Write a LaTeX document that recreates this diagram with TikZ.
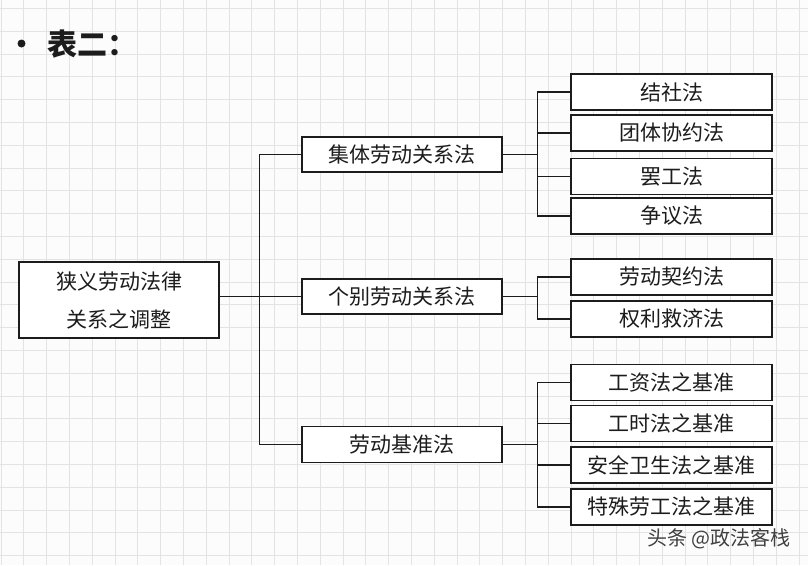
\documentclass[tikz,border=0pt]{standalone}
\usepackage{fontspec}
\newfontfamily\cjk{Noto Sans CJK SC}
\definecolor{gridc}{RGB}{226,228,226}
\definecolor{inkc}{RGB}{28,28,28}
\begin{document}
\begin{tikzpicture}[x=1pt,y=-1pt,
  gridline/.style={draw=gridc,line width=0.9pt},
  box/.style={draw=inkc,line width=1.4pt,fill=white,inner sep=0pt,
    minimum width=200pt,minimum height=36pt,
    font=\cjk\fontsize{21}{21}\selectfont,text=inkc},
  conn/.style={draw=inkc,line width=1.4pt}]
\useasboundingbox (0,0) rectangle (808,565);
\fill[white!98!gray] (0,0) rectangle (808,565);
\foreach \i in {0,...,35} \draw[gridline] ({1+\i*22.8},0) -- ({1+\i*22.8},565);
\foreach \j in {0,...,24} \draw[gridline] (0,{8.5+\j*22.8}) -- (808,{8.5+\j*22.8});
% title
\node[circle,fill=inkc,inner sep=0pt,minimum size=8pt] (bul) at (21.5,43.5) {};
\node[anchor=west,font=\cjk\bfseries\fontsize{30}{30}\selectfont,text=inkc,inner sep=0pt] (title) at (47,44) {表二：};
% root
\node[box,minimum height=76pt,align=center,font=\cjk\fontsize{21}{38}\selectfont] (root) at (119,300) {狭义劳动法律\\关系之调整};
% middle
\node[box,minimum height=35pt] (m1) at (402,154.5) {集体劳动关系法};
\node[box,minimum height=35pt] (m2) at (402,296.5) {个别劳动关系法};
\node[box,minimum height=36pt] (m3) at (402,444.5) {劳动基准法};
% right
\node[box,minimum width=201pt] (a1) at (671.5,92) {结社法};
\node[box,minimum width=201pt] (a2) at (671.5,133) {团体协约法};
\node[box,minimum width=201pt] (a3) at (671.5,176.5) {罢工法};
\node[box,minimum width=201pt] (a4) at (671.5,216) {争议法};
\node[box,minimum width=201pt] (b1) at (671.5,277) {劳动契约法};
\node[box,minimum width=201pt] (b2) at (671.5,319) {权利救济法};
\node[box,minimum width=201pt] (c1) at (671.5,382.5) {工资法之基准};
\node[box,minimum width=201pt] (c2) at (671.5,423.5) {工时法之基准};
\node[box,minimum width=201pt] (c3) at (671.5,465) {安全卫生法之基准};
\node[box,minimum width=201pt] (c4) at (671.5,507) {特殊劳工法之基准};
% connectors root -> middle
\draw[conn] (root.east |- m2.west) -- (m2.west);
\draw[conn] (m1.west) -- ++(-42,0) |- (m3.west);
% group 1
\draw[conn] (m1.east) -- ++(35,0) coordinate (j1);
\draw[conn] (a1.west) -| (j1) |- (a4.west);
\draw[conn] (a2.west) -- (a2.west -| j1);
\draw[conn] (a3.west) -- (a3.west -| j1);
% group 2
\draw[conn] (m2.east) -- ++(35,0) coordinate (j2);
\draw[conn] (b1.west) -| (j2) |- (b2.west);
% group 3
\draw[conn] (m3.east) -- ++(35,0) coordinate (j3);
\draw[conn] (c1.west) -| (j3) |- (c4.west);
\draw[conn] (c2.west) -- (c2.west -| j3);
\draw[conn] (c3.west) -- (c3.west -| j3);
% watermark
\node[font=\cjk\fontsize{20}{20}\selectfont,text=black!75,inner sep=0pt] (wm) at (719,539) {头条 @政法客栈};
\end{tikzpicture}
\end{document}
